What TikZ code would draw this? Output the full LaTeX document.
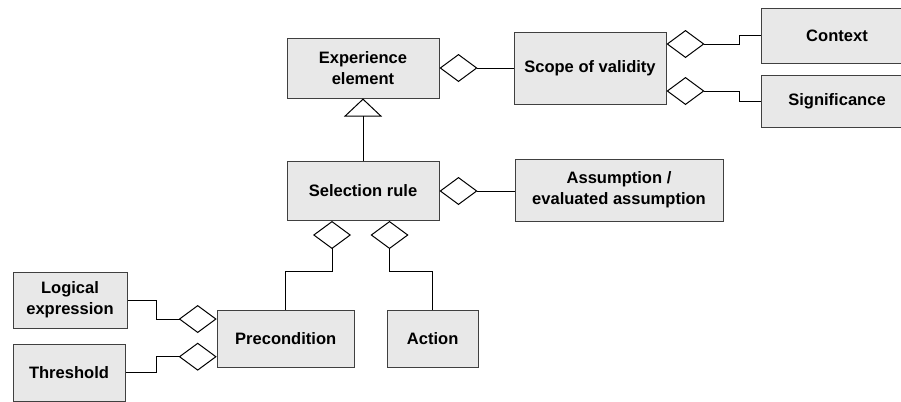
\documentclass[tikz,border=0pt]{standalone}
\usepackage{fontspec}
\setmainfont{Liberation Sans}
\usepackage{tikz}
\usetikzlibrary{arrows.meta,positioning,calc}
\definecolor{boxfill}{RGB}{232,232,232}
\definecolor{boxline}{RGB}{64,64,64}

\begin{document}
\begin{tikzpicture}[x=0.75pt,y=-0.75pt,
  box/.style={draw=boxline,fill=boxfill,line width=0.75pt,align=center,inner sep=0pt,
              font=\fontsize{12.4}{15.5}\selectfont\bfseries},
  agg/.style={{Diamond[open,length=28.5pt,width=21pt]}-,line width=0.75pt},
  aggdown/.style={{Diamond[open,length=21pt,width=28.5pt]}-,line width=0.75pt},
  inherit/.style={-{Triangle[open,length=13.5pt,width=28.5pt]},line width=0.75pt}]

  \useasboundingbox (0,0) rectangle (901,401);
  \clip (0,0) rectangle (901,401);

  % Top row
  \node[box,minimum width=114pt,minimum height=45pt]
    (expel) at (363,68) {Experience\\element};
  \node[box,minimum width=114pt,minimum height=54pt]
    (scope) at (590,68) {Scope of validity};
  \node[box,minimum width=114pt,minimum height=41.25pt]
    (context) at (837,35.5) {Context};
  \node[box,minimum width=114pt,minimum height=39pt]
    (signif) at (837,101) {Significance};

  % Middle row
  \node[box,minimum width=114pt,minimum height=44.25pt]
    (selrule) at (363,191) {Selection rule};
  \node[box,minimum width=156pt,minimum height=46.5pt]
    (assum) at (619,190) {Assumption /\\evaluated assumption};

  % Bottom row
  \node[box,minimum width=102.75pt,minimum height=42.75pt]
    (precond) at (285.7,338.5) {Precondition};
  \node[box,minimum width=68.25pt,minimum height=42.75pt]
    (action) at (432.7,338.5) {Action};
  \node[box,minimum width=85.5pt,minimum height=42pt]
    (logexpr) at (70,300) {Logical\\expression};
  \node[box,minimum width=84pt,minimum height=42.75pt]
    (thresh) at (69,372.5) {Threshold};

  % Aggregations
  \draw[agg] (expel.east) -- (scope.west);
  \draw[agg] ([yshift=18pt]scope.east) -- ++(73,0) |- (context.west);
  \draw[agg] ([yshift=-17.25pt]scope.east) -- ++(73,0) |- (signif.west);
  \draw[agg] (selrule.east) -- (selrule.east -| assum.west);
  \draw[aggdown] ([xshift=-23.25pt]selrule.south) -- ++(0,50) -| (precond.north);
  \draw[aggdown] ([xshift=19.9pt]selrule.south) -- ++(0,50) -| (action.north);
  \draw[agg] ([yshift=14.6pt]precond.west) -- ++(-60.6,0) |- (logexpr.east);
  \draw[agg] ([yshift=-13.65pt]precond.west) -- ++(-60.6,0) |- (thresh.east);

  % Generalisation
  \draw[inherit] (selrule.north) -- (expel.south);

\end{tikzpicture}
\end{document}
